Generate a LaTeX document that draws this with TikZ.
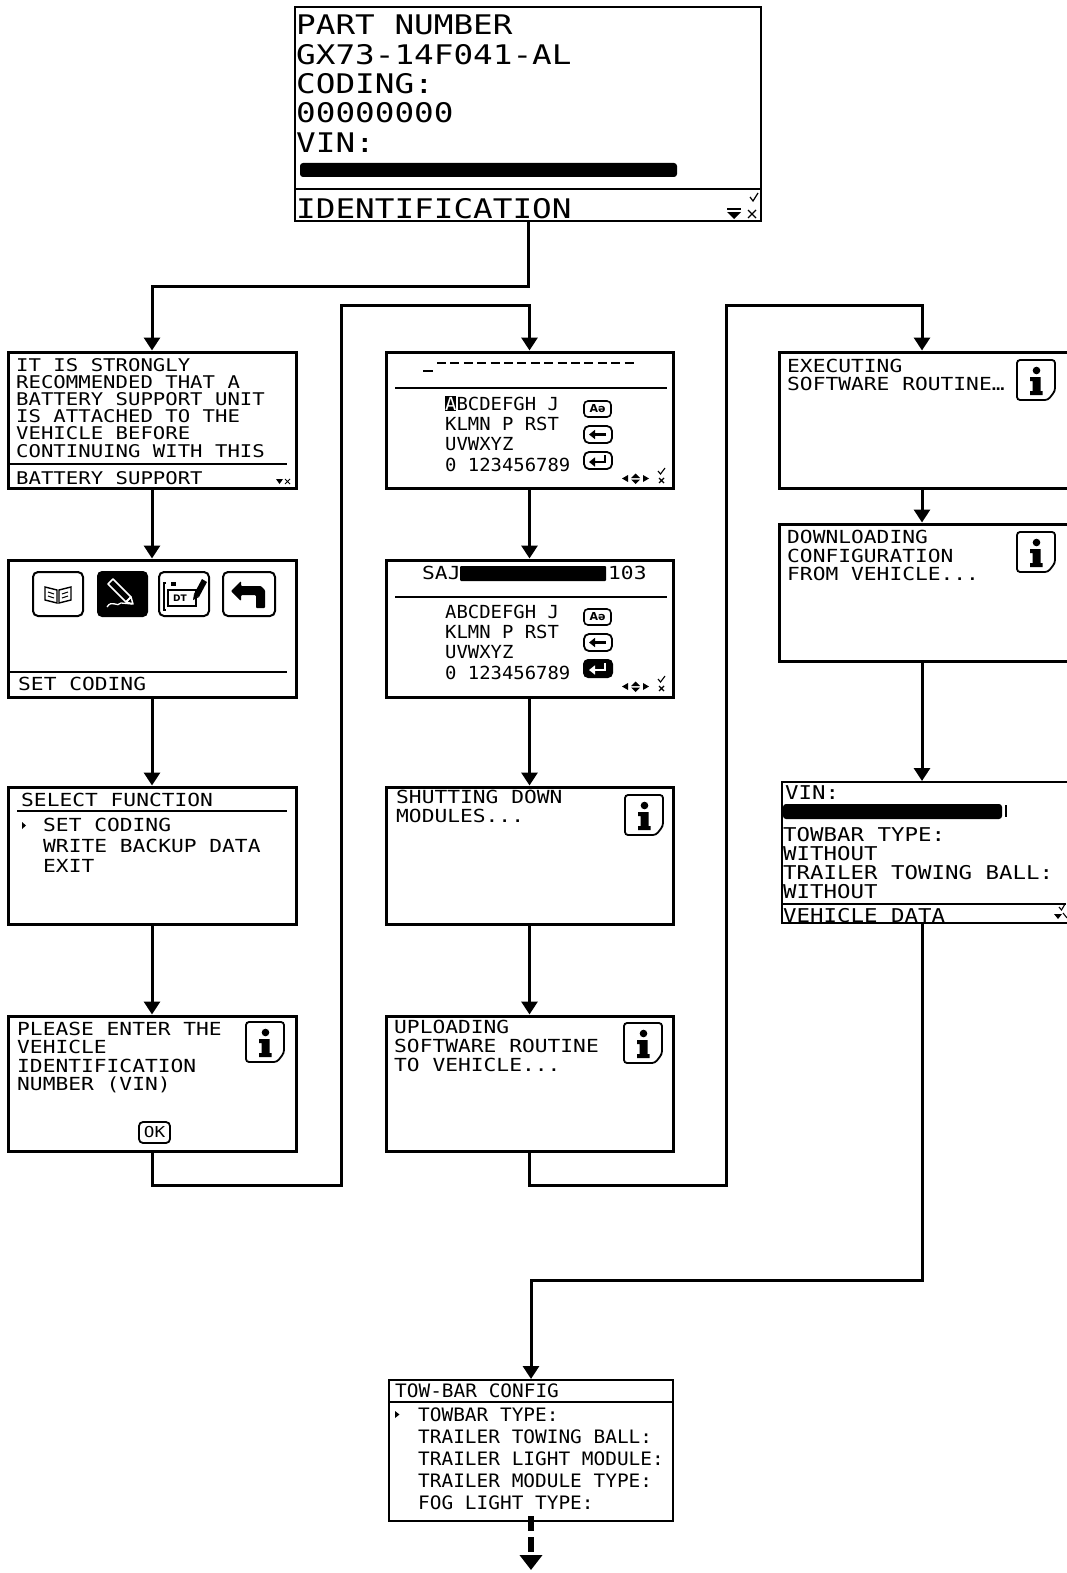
\documentclass[tikz,border=0pt]{standalone}
\usepackage{fontspec}
\usetikzlibrary{arrows.meta}
\newfontfamily\lcdA[FakeStretch=1.18]{DejaVu Sans Mono}
\newfontfamily\lcdB[FakeStretch=1.21]{DejaVu Sans Mono}
\newfontfamily\lcdC[FakeStretch=1.05]{DejaVu Sans Mono}
\newfontfamily\symf{DejaVu Sans}
\newcommand\fA[2]{\lcdA\fontsize{#1}{#2}\selectfont}
\newcommand\fB[2]{\lcdB\fontsize{#1}{#2}\selectfont}
\newcommand\fC[2]{\lcdC\fontsize{#1}{#2}\selectfont}
\newcommand\mybox[6]{\node[#2, minimum width={#5-#3}, minimum height={#6-#4}] (#1) at ({(#3+#5)/2},{(#4+#6)/2}) {};}
\tikzset{
  scr/.style={draw, line width=3pt, inner sep=0pt, fill=white},
  thinscr/.style={draw, line width=2pt, inner sep=0pt, fill=white},
  tA/.style={anchor=north west, inner sep=0pt, align=left},
  conn/.style={line width=3pt, -{Triangle[width=16pt,length=13pt]}},
  sep/.style={line width=2pt},
  redact/.style={fill=black, rounded corners=3pt},
  info/.pic={
    \draw[line width=1.8pt, rounded corners=3pt] (0,0) -- (38,0) -- (38,31) -- (31,40) -- (0,40) -- cycle;
    \fill (19.5,10.5) circle (3.8);
    \fill (13,17) -- (23.5,17) -- (23.5,31) -- (25.5,31) -- (25.5,35) -- (13,35) -- (13,31) -- (15.5,31) -- (15.5,21) -- (13,21) -- cycle;
  },
  kbicons/.pic={
    \draw[line width=1.6pt, rounded corners=4pt] (0,0) rectangle (27,16);
    \node[inner sep=0pt, font=\symf\bfseries\fontsize{11}{11}\selectfont] at (13.5,8) {Aə};
    \draw[line width=1.8pt, rounded corners=5pt] (0,25) rectangle (28,42);
    \draw[line width=2.8pt, -{Triangle[width=9pt,length=6pt]}] (22,33.5) -- (5,33.5);
  },
  entA/.pic={
    \draw[line width=1.8pt, rounded corners=5pt] (0,0) rectangle (28,17);
    \draw[line width=2.8pt, -{Triangle[width=9pt,length=6pt]}] (21,3) -- (21,10) -- (5,10);
  },
  entB/.pic={
    \fill[rounded corners=5pt] (-1,-1) rectangle (29,18);
    \draw[white, line width=2.8pt, -{Triangle[width=9pt,length=6pt]}] (21,3) -- (21,10) -- (5,10);
  },
  navicons/.pic={
    \fill (0,10.5) -- (6,7) -- (6,14) -- cycle;
    \fill (9,10) -- (13.5,5.5) -- (18,10) -- cycle;
    \fill (9,11.5) -- (13.5,16) -- (18,11.5) -- cycle;
    \fill (21,7) -- (27,10.5) -- (21,14) -- cycle;
    \draw[line width=1.1pt] (36,3) -- (38.5,6) -- (43,0);
    \draw[line width=1.1pt] (37,10) -- (42,15) (42,10) -- (37,15);
  }
}
\begin{document}
\begin{tikzpicture}[x=1pt,y=-1pt]
\useasboundingbox (0,0) rectangle (1066,1573);

% ---------------- boxes ----------------
\mybox{top}{thinscr}{295}{7}{761}{221}
\mybox{bat}{scr}{8}{352}{296}{488}
\mybox{setc}{scr}{8}{560}{296}{697}
\mybox{self}{scr}{8}{787}{296}{924}
\mybox{plz}{scr}{8}{1016}{296}{1151}
\mybox{kba}{scr}{386}{352}{673}{488}
\mybox{kbb}{scr}{386}{560}{673}{697}
\mybox{shut}{scr}{386}{787}{673}{924}
\mybox{upl}{scr}{386}{1016}{673}{1151}
\mybox{exe}{scr}{779}{352}{1080}{488}
\mybox{dl}{scr}{779}{524}{1080}{661}
\mybox{veh}{thinscr}{782}{782}{1080}{923}
\mybox{tow}{thinscr}{389}{1380}{673}{1521}

% ---------------- connectors ----------------
\coordinate (j1) at (top.south |- 0,286);
\coordinate (j2) at (152,1185);
\coordinate (j3) at (341,1185);
\coordinate (j4) at (341,305);
\coordinate (j5) at (529.5,1185);
\coordinate (j6) at (726,1185);
\coordinate (j7) at (726,305);
\coordinate (rx) at (922,0);
\coordinate (j8) at (922,1280);
\coordinate (j9) at (531,1280);
\coordinate (dend) at (531,1570);

\draw[conn] (top.south) -- (j1) -| (bat.north);
\draw[conn] (bat.south) -- (setc.north);
\draw[conn] (setc.south) -- (self.north);
\draw[conn] (self.south) -- (plz.north);
\draw[conn] (plz.south) -- (j2) -- (j3) -- (j4) -| (kba.north);
\draw[conn] (kba.south) -- (kbb.north);
\draw[conn] (kbb.south) -- (shut.north);
\draw[conn] (shut.south) -- (upl.north);
\draw[conn] (upl.south) -- (j5) -- (j6) -- (j7) -| (exe.north -| rx);
\draw[conn] (exe.south -| rx) -- (dl.north -| rx);
\draw[conn] (dl.south -| rx) -- (veh.north -| rx);
\draw[conn] (veh.south -| rx) -- (j8) -- (j9) -- (tow.north);
\draw[line width=6pt, dash pattern=on 15pt off 6pt, -{Triangle[width=22pt,length=15pt]}] ([yshift=6pt]tow.south) -- (dend);

% ---------------- top box ----------------
\node[tA, font={\fB{27}{29.3}}] (toptxt) at (296,15) {PART NUMBER\\GX73-14F041-AL\\CODING:\\00000000\\VIN:};
\fill[redact] (300,163) rectangle (677,177);
\draw[sep] (295,189) -- (761,189);
\node[tA, font={\fB{27}{27}}] (topfoot) at (296,198) {IDENTIFICATION};
\draw[line width=1.2pt] (750,197) -- (753,201) -- (758,193);
\fill (727,212) -- (741,212) -- (734,219) -- cycle;
\draw[line width=1.5pt] (727,209) -- (741,209);
\draw[line width=1.2pt] (748,210) -- (756,218) (756,210) -- (748,218);

% ---------------- battery ----------------
\node[tA, font={\fA{17.5}{17.2}}] (battxt) at (16,358) {IT IS STRONGLY\\RECOMMENDED THAT A\\BATTERY SUPPORT UNIT\\IS ATTACHED TO THE\\VEHICLE BEFORE\\CONTINUING WITH THIS};
\draw[sep] (10,464) -- (287,464);
\node[tA, font={\fA{17.5}{17.5}}] (batfoot) at (16,471) {BATTERY SUPPORT};
\fill (276,479) -- (283,479) -- (279.5,484) -- cycle;
\draw[line width=1pt] (285,479) -- (290,484) (290,479) -- (285,484);

% ---------------- set coding ----------------
\draw[line width=2pt, rounded corners=5pt] (33,572) rectangle (83,616);
\draw[line width=1.4pt] (45,587) -- (57,590) -- (57,603) -- (45,600) -- cycle;
\draw[line width=1.4pt] (59,590) -- (71,587) -- (71,600) -- (59,603) -- cycle;
\draw[line width=1pt] (48,592) -- (54,594) (48,596) -- (54,598) (62,594) -- (68,592) (62,598) -- (68,596);
\fill[rounded corners=5pt] (97,571) rectangle (148,617);
\draw[white, line width=1.5pt, line join=round] (108,584) -- (113,579) -- (131,597) -- (126,602) -- cycle;
\draw[white, line width=1.5pt, line join=round] (126,602) -- (131,597) -- (133,604) -- cycle;
\draw[white, line width=1.3pt] (107,607) .. controls (112,599) and (117,608) .. (121,603) -- (132,604);
\draw[line width=2pt, rounded corners=5pt] (159,572) rectangle (209,616);
\draw[line width=1.3pt] (166,583) -- (164,583) -- (164,610) -- (166,610);
\draw[line width=1.3pt] (168,590) rectangle (196,606);
\fill (171,582) rectangle (176,586);
\node[inner sep=0pt, font=\symf\bfseries\fontsize{9}{9}\selectfont] (dtlbl) at (180,598) {DT};
\fill (194,594) -- (202,579) -- (207,582) -- (199,597) -- cycle;
\fill (194,594) -- (199,597) -- (193,600) -- cycle;
\draw[line width=2pt, rounded corners=5pt] (223,572) rectangle (275,616);
\fill[rounded corners=1pt] (231,591) -- (241,581) -- (241,586) -- (261,586) -- (265,590) -- (265,608) -- (256,608) -- (256,595) -- (241,595) -- (241,601) -- cycle;
\draw[sep] (10,672) -- (287,672);
\node[tA, font={\fA{18}{18}}] (setcfoot) at (18,677) {SET CODING};

% ---------------- select function ----------------
\node[tA, font={\fA{18}{18}}] (selhead) at (21,793) {SELECT FUNCTION};
\draw[sep] (17,811) -- (287,811);
\fill (22,822) -- (26,825.5) -- (22,829) -- cycle;
\node[tA, font={\fA{18}{20.5}}] (seltxt) at (43,818) {SET CODING\\WRITE BACKUP DATA\\EXIT};

% ---------------- please enter ----------------
\node[tA, font={\fA{18}{18.3}}] (plztxt) at (17,1022) {PLEASE ENTER THE\\VEHICLE\\IDENTIFICATION\\NUMBER (VIN)};
\pic (plzinfo) at (246,1022) {info};
\draw[line width=1.8pt, rounded corners=4pt] (139,1122) rectangle (170,1143);
\node[inner sep=0pt, font={\fA{15}{15}}] (oklbl) at (154.5,1132.5) {OK};

% ---------------- keyboard 1 ----------------
\draw[line width=2pt] (423,371) -- (433,371);
\draw[line width=2pt, dash pattern=on 9pt off 4.4pt] (437,363) -- (637,363);
\draw[sep] (395,388) -- (667,388);
\fill (445,396) rectangle (456,411);
\node[tA, font={\fC{18}{20.2}}] (kbatxt) at (445,397) {\textcolor{white}{A}BCDEFGH J\\KLMN P RST\\UVWXYZ\\0 123456789};
\pic (kbaic) at (584,401) {kbicons};
\pic (kbaent) at (584,452) {entA};
\pic (kbanav) at (622,468) {navicons};

% ---------------- keyboard 2 ----------------
\node[tA, font={\fA{18}{18}}] (kbbtop) at (422,566) {SAJ};
\fill[redact, rounded corners=1pt] (460,566) rectangle (606,581);
\node[tA, font={\fA{18}{18}}] (kbbtop2) at (608,566) {103};
\draw[sep] (395,597) -- (667,597);
\node[tA, font={\fC{18}{20.2}}] (kbbtxt) at (445,605) {ABCDEFGH J\\KLMN P RST\\UVWXYZ\\0 123456789};
\pic (kbbic) at (584,609) {kbicons};
\pic (kbbent) at (584,660) {entB};
\pic (kbbnav) at (622,676) {navicons};

% ---------------- shutting down ----------------
\node[tA, font={\fA{18}{19}}] (shuttxt) at (396,790) {SHUTTING DOWN\\MODULES...};
\pic (shutinfo) at (625,795) {info};

% ---------------- uploading ----------------
\node[tA, font={\fA{18}{19}}] (upltxt) at (394,1020) {UPLOADING\\SOFTWARE ROUTINE\\TO VEHICLE...};
\pic (uplinfo) at (624,1023) {info};

% ---------------- executing ----------------
\node[tA, font={\fA{18}{18}}] (exetxt) at (787,359) {EXECUTING\\SOFTWARE ROUTINE…};
\pic (exeinfo) at (1017,360) {info};

% ---------------- downloading ----------------
\node[tA, font={\fA{18}{18.5}}] (dltxt) at (787,530) {DOWNLOADING\\CONFIGURATION\\FROM VEHICLE...};
\pic (dlinfo) at (1017,532) {info};

% ---------------- vehicle data ----------------
\node[tA, font={\fA{19}{19.5}}] (vehvin) at (785,785) {VIN:};
\fill[redact] (783,804) rectangle (1002,819);
\draw[line width=1.5pt] (1006,805) -- (1006,817);
\node[tA, font={\fA{19}{19.2}}] (vehtxt) at (783,827) {TOWBAR TYPE:\\WITHOUT\\TRAILER TOWING BALL:\\WITHOUT};
\draw[sep] (782,904) -- (1066,904);
\node[tA, font={\fA{19}{19}}] (vehfoot) at (783,908) {VEHICLE DATA};
\draw[line width=1.1pt] (1059,907) -- (1061.5,910) -- (1065,904);
\fill (1054,914) -- (1062,914) -- (1058,919) -- cycle;
\draw[line width=1.1pt] (1063,913) -- (1067,918);

% ---------------- tow-bar config ----------------
\node[tA, font={\fC{18.5}{18.5}}] (towhead) at (395,1384) {TOW-BAR CONFIG};
\draw[line width=1.5pt] (389,1402) -- (673,1402);
\fill (395,1411) -- (399.5,1414.5) -- (395,1418) -- cycle;
\node[tA, font={\fC{18.5}{21.8}}] (towtxt) at (418,1408) {TOWBAR TYPE:\\TRAILER TOWING BALL:\\TRAILER LIGHT MODULE:\\TRAILER MODULE TYPE:\\FOG LIGHT TYPE:};
\end{tikzpicture}
\end{document}
